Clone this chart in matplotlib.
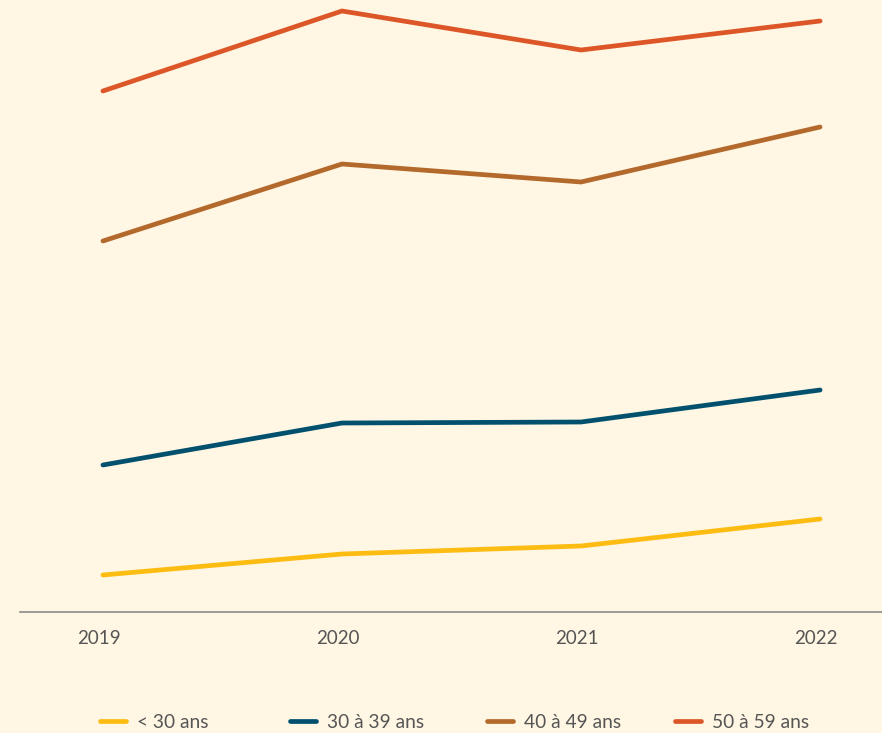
import matplotlib.pyplot as plt
from matplotlib.lines import Line2D
from matplotlib.transforms import ScaledTranslation

# values (no y axis shown, arbitrary units)
years = [2019, 2020, 2021, 2022]
labels = ['< 30 ans', '30 à 39 ans', '40 à 49 ans', '50 à 59 ans']
under_30 = [3.7, 5.8, 6.6, 9.3]
age_30_39 = [14.7, 18.9, 19.0, 22.2]
age_40_49 = [37.1, 44.8, 43.0, 48.5]
age_50_59 = [52.1, 60.1, 56.2, 59.1]
colors = ['#FDBC12', '#00506E', '#B3692B', '#DC5627']

bg = '#FFF6E3'
txt = '#555555'
plt.rcParams['font.family'] = ['Lato', 'DejaVu Sans']

fig = plt.figure(figsize=(8.82, 7.33), dpi=100, facecolor=bg)
ax = fig.add_axes([20 / 882, 121 / 733, 862 / 882, 612 / 733])
ax.set_facecolor(bg)

series = [under_30, age_30_39, age_40_49, age_50_59]
for vals, c, lab in zip(series, colors, labels):
    ax.plot(years, vals, color=c, lw=3.4, solid_capstyle='round',
            solid_joinstyle='miter', label=lab)

ax.set_xlim(2018.653, 2022.259)
ax.set_ylim(0, 61.2)
ax.set_yticks([])
ax.set_xticks(years)
ax.set_xticklabels([str(y) for y in years])
ax.tick_params(axis='x', length=0, pad=13, labelsize=13.5, labelcolor=txt)
# labels sit a little left of the points in the original
shift = ScaledTranslation(-4 / 100, 0, fig.dpi_scale_trans)
for t in ax.get_xticklabels():
    t.set_transform(t.get_transform() + shift)
for s in ['top', 'right', 'left']:
    ax.spines[s].set_visible(False)
ax.spines['bottom'].set_color('#8a8a8a')
ax.spines['bottom'].set_linewidth(1.2)

# legend entries spaced evenly along the bottom
starts = [103, 293, 490, 678]
for x0, c, lab in zip(starts, colors, labels):
    h = Line2D([], [], color=c, lw=3.4, solid_capstyle='round')
    fig.legend([h], [lab], loc='center left',
               bbox_to_anchor=(x0 / 882 - 0.012, 1 - 722 / 733),
               frameon=False, fontsize=13.8, labelcolor=txt,
               handlelength=1.35, handletextpad=0.6, borderaxespad=0)

fig.savefig('out.png', dpi=100, facecolor=bg)
